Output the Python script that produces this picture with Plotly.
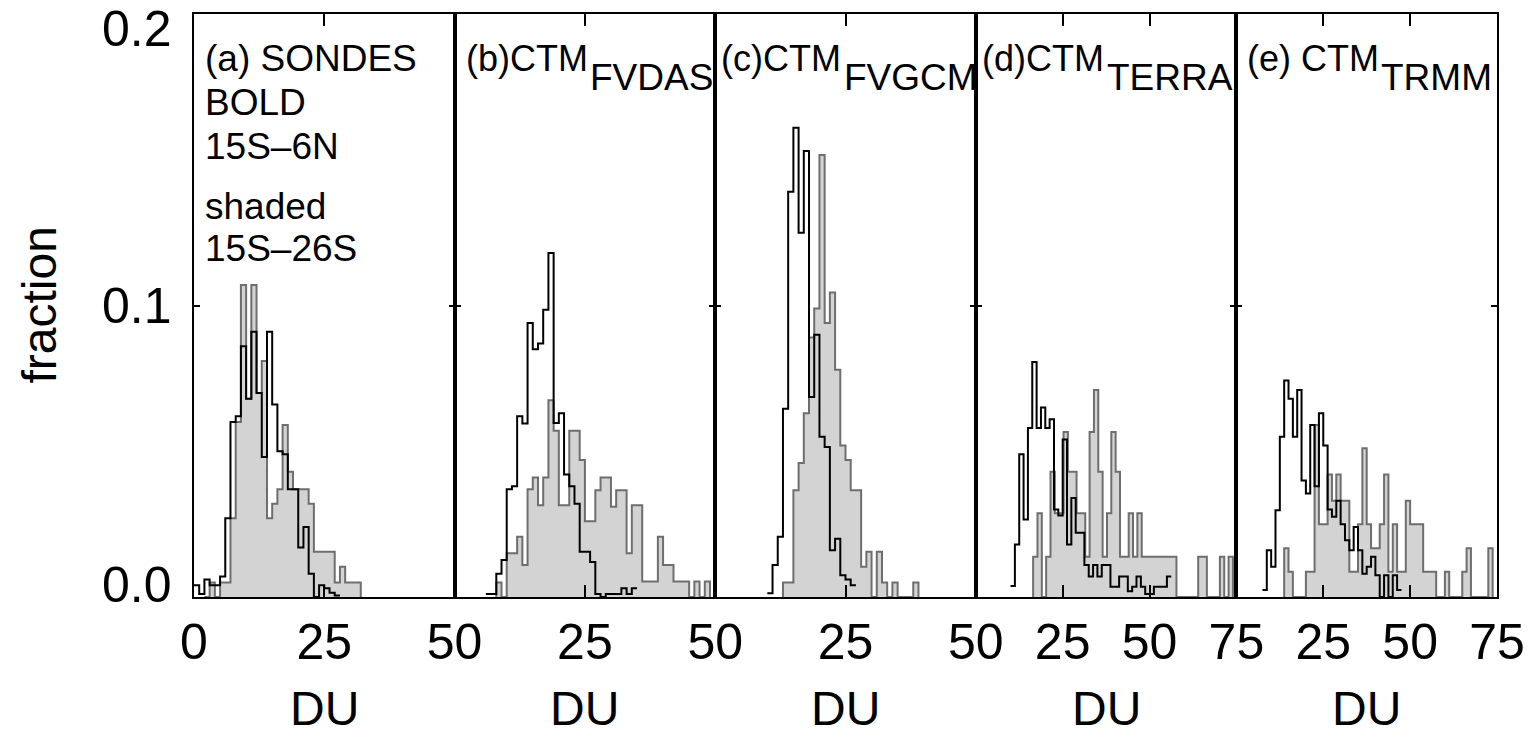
import numpy as np
import plotly.graph_objects as go
from plotly.subplots import make_subplots

# ---------------- data ----------------
panel_titles = ["(a) SONDES", "(b)CTM", "(c)CTM", "(d)CTM", "(e) CTM"]
panel_subscripts = ["", "FVDAS", "FVGCM", "TERRA", "TRMM"]
legend_lines = ["BOLD", "15S\u20136N", "shaded", "15S\u201326S"]

x_max = [50, 50, 50, 75, 75]
x_tickvals = [[0, 25, 50], [0, 25, 50], [0, 25, 50], [0, 25, 50, 75], [0, 25, 50, 75]]
x_ticktext = [["0", "25", "50"], ["", "25", "50"], ["", "25", "50"],
              ["", "25", "50", "75"], ["", "25", "50", "75"]]
x_title = "DU"
y_title = "fraction"
y_tickvals = [0.0, 0.1, 0.2]
y_ticktext = ["0.0", "0.1", "0.2"]

# histogram bins (DU): first bin left edge and bin width
bold_start = [0, 6, 10, 10, 7.5]
bold_width = [1, 1, 1, 1.25, 1.25]
shaded_start = [2, 8, 13, 16.5, 13.75]
shaded_width = [1, 1, 1, 1.25, 1.25]

bold_a = [0.004, 0.001, 0.006, 0.004, 0.004, 0.007, 0.027, 0.060, 0.062, 0.086, 0.068,
          0.091, 0.070, 0.048, 0.091, 0.066, 0.050, 0.049, 0.037, 0.037, 0.017, 0.024,
          0.008, 0.0, 0.004, 0.003, 0.0015, 0.0005]
shaded_a = [0.0, 0.005, 0.0, 0.005, 0.005, 0.027, 0.060, 0.107, 0.068, 0.107, 0.070,
            0.081, 0.027, 0.032, 0.037, 0.059, 0.043, 0.037, 0.037, 0.037, 0.032, 0.0155,
            0.0155, 0.0155, 0.0155, 0.005, 0.0104, 0.005, 0.005, 0.005]

bold_b = [0.001, 0.001, 0.008, 0.0127, 0.037, 0.038, 0.062, 0.0595, 0.094, 0.085, 0.087,
          0.0985, 0.118, 0.0597, 0.063, 0.042, 0.038, 0.032, 0.0155, 0.0155, 0.012, 0.001,
          0.0, 0.001, 0.001, 0.001, 0.003, 0.001, 0.003]
shaded_b = [0.005, 0.0, 0.015, 0.015, 0.0207, 0.011, 0.037, 0.041, 0.0315, 0.041, 0.0675,
            0.057, 0.0315, 0.0315, 0.057, 0.057, 0.047, 0.026, 0.026, 0.0366, 0.041, 0.041,
            0.031, 0.0366, 0.0366, 0.015, 0.0315, 0.0315, 0.0053, 0.0053, 0.0053, 0.0207,
            0.011, 0.011, 0.0053, 0.0053, 0.0053, 0.0, 0.0053, 0.0, 0.0053]

bold_c = [0.0013, 0.011, 0.0207, 0.0646, 0.139, 0.161, 0.125, 0.153, 0.0686, 0.090, 0.055,
          0.0515, 0.016, 0.020, 0.0075, 0.006, 0.004]
shaded_c = [0.005, 0.005, 0.0366, 0.046, 0.063, 0.089, 0.099, 0.1516, 0.094, 0.1045, 0.078,
            0.052, 0.047, 0.0366, 0.0366, 0.0104, 0.0155, 0.0, 0.0155, 0.005, 0.0, 0.005,
            0.0, 0.0, 0.0, 0.005]

bold_d = [0.0038, 0.018, 0.049, 0.0266, 0.058, 0.0806, 0.058, 0.065, 0.058, 0.061, 0.030,
          0.028, 0.054, 0.018, 0.034, 0.022, 0.022, 0.011, 0.007, 0.011, 0.007, 0.011,
          0.011, 0.0035, 0.0035, 0.007, 0.007, 0.002, 0.0035, 0.007, 0.0035, 0.001, 0.001,
          0.0035, 0.0035, 0.0035, 0.007]
shaded_d = [0.0138, 0.0287, 0.0, 0.0138, 0.043, 0.0287, 0.0287, 0.0566, 0.043, 0.043,
            0.0287, 0.0287, 0.0138, 0.0566, 0.071, 0.043, 0.0138, 0.0287, 0.0566, 0.043,
            0.0138, 0.0138, 0.0287, 0.0138, 0.0287, 0.0138, 0.0138, 0.0138, 0.0138, 0.0138,
            0.0138, 0.0138, 0.0138, 0.0, 0.0, 0.0, 0.0, 0.0, 0.0138, 0.0138, 0.0, 0.0, 0.0,
            0.0138, 0.0, 0.0138]

bold_e = [0.0024, 0.016, 0.0104, 0.0298, 0.055, 0.0743, 0.068, 0.055, 0.071, 0.040, 0.0355,
          0.059, 0.038, 0.063, 0.052, 0.030, 0.0275, 0.033, 0.025, 0.0195, 0.016, 0.024,
          0.016, 0.008, 0.0104, 0.0138, 0.0075, 0.0, 0.0075, 0.0, 0.0075, 0.0024]
shaded_e = [0.0167, 0.0087, 0.0, 0.0, 0.0, 0.0087, 0.0087, 0.059, 0.025, 0.025, 0.042, 0.033,
            0.042, 0.033, 0.033, 0.0087, 0.0087, 0.025, 0.051, 0.025, 0.0167, 0.0167, 0.025,
            0.042, 0.0087, 0.025, 0.0087, 0.0087, 0.033, 0.025, 0.025, 0.025, 0.0087, 0.0087,
            0.0087, 0.0, 0.0, 0.0087, 0.0, 0.0, 0.0, 0.0087, 0.0167, 0.0, 0.0, 0.0, 0.0, 0.0167]

bold_series = [bold_a, bold_b, bold_c, bold_d, bold_e]
shaded_series = [shaded_a, shaded_b, shaded_c, shaded_d, shaded_e]

# ---------------- styles ----------------
FONT = "Liberation Sans, Arial, sans-serif"
FILL = "#d3d3d3"
GRAY_LINE = "#6e6e6e"
BLACK = "#000000"


def step_xy(start, width, values, closed):
    edges = list(start + width * np.arange(len(values) + 1))
    ys = list(values) + [values[-1]]
    if closed:
        edges = [edges[0]] + edges + [edges[-1]]
        ys = [0.0] + ys + [0.0]
    return edges, ys


fig = make_subplots(rows=1, cols=5, shared_yaxes=True, horizontal_spacing=0)

for i in range(5):
    xs, ys = step_xy(shaded_start[i], shaded_width[i], shaded_series[i], True)
    fig.add_trace(go.Scatter(x=xs, y=ys, mode="lines", line_shape="hv",
                             line=dict(color=GRAY_LINE, width=2),
                             fill="tozeroy", fillcolor=FILL, showlegend=False,
                             hoverinfo="skip"), row=1, col=i + 1)
    xb, yb = step_xy(bold_start[i], bold_width[i], bold_series[i], False)
    fig.add_trace(go.Scatter(x=xb, y=yb, mode="lines", line_shape="hv",
                             line=dict(color=BLACK, width=2), showlegend=False,
                             hoverinfo="skip"), row=1, col=i + 1)

    fig.update_xaxes(range=[0, x_max[i]], tickvals=x_tickvals[i], ticktext=x_ticktext[i],
                     ticks="inside", ticklen=12, tickwidth=1.5, tickcolor=BLACK,
                     showline=True, linecolor=BLACK, linewidth=2, mirror="ticks",
                     showgrid=False, zeroline=False, ticklabelstandoff=0,
                     tickfont=dict(family=FONT, size=50, color=BLACK),
                     row=1, col=i + 1)
    fig.update_yaxes(range=[0, 0.2], tickvals=[0.1], ticks="inside", ticklen=6,
                     tickwidth=1.5, tickcolor=BLACK, showline=True, linecolor=BLACK,
                     linewidth=2, mirror="ticks", showgrid=False, zeroline=False,
                     showticklabels=False, row=1, col=i + 1)

annotations = []
# y tick labels
y_label_shift = [12, 0, -15]
for v, t, s in zip(y_tickvals, y_ticktext, y_label_shift):
    annotations.append(dict(text=t, xref="paper", x=0, xanchor="right", xshift=-20,
                            yref="y", y=v, yanchor="middle", yshift=s, showarrow=False,
                            font=dict(family=FONT, size=50, color=BLACK)))
# y title
annotations.append(dict(text=y_title, xref="paper", x=0, xshift=-155, yref="paper", y=0.5,
                        textangle=-90, showarrow=False, xanchor="center", yanchor="middle",
                        font=dict(family=FONT, size=48, color=BLACK)))

xdoms = ["x domain", "x2 domain", "x3 domain", "x4 domain", "x5 domain"]
title_shift = [9, 9, 4, 4, 9]
title_size = [37, 36, 36, 36, 36]
sub_shift = [0, 133, 127, 129, 143]
for i in range(5):
    # DU axis titles
    annotations.append(dict(text=x_title, xref=xdoms[i], x=0.5, xanchor="center",
                            yref="paper", y=0, yanchor="middle", yshift=-111,
                            showarrow=False, font=dict(family=FONT, size=48, color=BLACK)))
    # panel titles
    annotations.append(dict(text=panel_titles[i], xref=xdoms[i], x=0, xanchor="left",
                            xshift=title_shift[i], yref="paper", y=1, yanchor="middle",
                            yshift=-44, showarrow=False,
                            font=dict(family=FONT, size=title_size[i], color=BLACK)))
    if panel_subscripts[i]:
        annotations.append(dict(text=panel_subscripts[i], xref=xdoms[i], x=0,
                                xanchor="left", xshift=sub_shift[i], yref="paper", y=1,
                                yanchor="middle", yshift=-63, showarrow=False,
                                font=dict(family=FONT, size=37, color=BLACK)))

# legend text lines in panel (a)
legend_shift = [-88, -132, -192, -234]
for t, s in zip(legend_lines, legend_shift):
    annotations.append(dict(text=t, xref="x domain", x=0, xanchor="left", xshift=9,
                            yref="paper", y=1, yanchor="middle", yshift=s, showarrow=False,
                            font=dict(family=FONT, size=37, color=BLACK)))

fig.update_layout(width=1537, height=737, margin=dict(l=194, r=32, t=13, b=140),
                  plot_bgcolor="white", paper_bgcolor="white",
                  annotations=annotations, showlegend=False,
                  font=dict(family=FONT, color=BLACK))

fig.write_html("out.html")
